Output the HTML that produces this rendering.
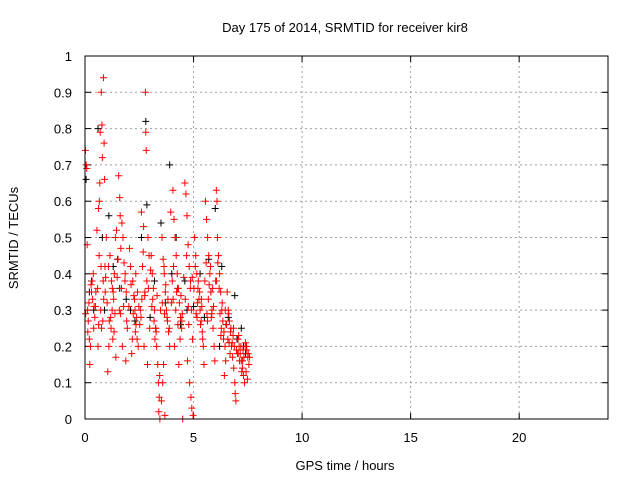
<!DOCTYPE html>
<html><head><meta charset="utf-8"><style>
body{margin:0;background:#fff}
svg text{font-family:"Liberation Sans",sans-serif;font-size:13px;fill:#000}
</style></head><body>
<svg id="chart" width="640" height="480" xmlns="http://www.w3.org/2000/svg">
<rect width="640" height="480" fill="#fff"/>
<text x="345" y="32" text-anchor="middle">Day 175 of 2014, SRMTID for receiver kir8</text>
<text x="345" y="470" text-anchor="middle">GPS time / hours</text>
<text transform="translate(18,238) rotate(-90)" text-anchor="middle">SRMTID / TECUs</text>
<g id="grid"></g><g id="ticks"></g><g id="black"></g><g id="red"></g>
<rect x="85" y="56" width="523" height="363" fill="none" stroke="#000" stroke-width="1"/>
</svg>
<script>
const xTicks=[0,5,10,15,20];
const yTicks=[0,0.1,0.2,0.3,0.4,0.5,0.6,0.7,0.8,0.9,1];
const yTickLabels=["0","0.1","0.2","0.3","0.4","0.5","0.6","0.7","0.8","0.9","1"];
const redX=[0.02,0.05,0.08,0.1,0.12,0.15,0.2,0.25,0.3,0.35,0.4,0.45,0.22,0.38,
0.55,0.85,0.75,0.78,0.7,0.88,0.8,0.9,0.62,0.65,0.95,0.58,0.72,0.82,0.6,0.68,0.98,0.92,0.86,0.76,
1.05,1.1,1.2,1.25,1.3,1.35,1.15,1.4,1.45,1.22,1.32,1.18,1.28,1.42,
1.55,1.6,1.62,1.7,1.75,1.65,1.8,1.85,1.9,1.58,1.95,1.72,1.88,
2.05,2.1,2.2,2.25,2.3,2.35,2.4,2.45,2.15,2.28,2.38,
2.78,2.8,2.82,2.6,2.7,2.9,2.95,2.65,2.85,2.75,2.55,2.98,2.72,2.88,
3.05,3.1,3.15,3.2,3.25,3.3,3.35,3.38,3.42,3.4,3.45,3.48,3.22,
3.55,3.6,3.65,3.7,3.75,3.8,3.85,3.9,3.62,3.58,3.52,3.68,3.95,
4.05,4.1,4.15,4.2,4.25,4.3,4.35,4.4,4.45,4.12,4.32,4.5,
4.6,4.65,4.7,4.75,4.8,4.85,4.9,4.95,4.72,4.82,4.88,4.92,4.98,
5.05,5.1,5.15,5.2,5.25,5.3,5.35,5.4,5.45,5.48,
5.55,5.6,5.65,5.7,5.75,5.8,5.85,5.9,5.95,5.98,
6.05,6.08,6.1,6.15,6.2,6.25,6.3,6.35,6.4,6.45,6.48,6.42,
6.55,6.6,6.65,6.7,6.75,6.8,6.85,6.9,6.92,6.95,
7.05,7.1,7.15,7.2,7.25,7.3,7.35,7.4,7.45,7.5,7.55,
0.03,0.18,0.28,0.42,0.5,0.66,0.74,0.84,1.02,1.12,1.26,1.38,1.48,1.52,1.68,1.78,1.92,2.02,2.12,2.22,2.32,2.42,2.48,2.52,2.62,2.68,2.92,3.02,3.12,3.18,3.28,3.32,3.44,3.56,3.66,3.72,3.82,3.88,3.98,4.02,4.08,4.18,4.22,4.28,4.38,4.42,4.48,4.55,4.62,4.68,4.78,4.86,5.02,5.08,5.12,5.18,5.22,5.28,5.32,5.38,5.42,5.52,5.58,5.62,5.68,5.72,5.78,5.82,5.88,5.92,6.02,6.12,6.18,6.22,6.28,6.32,6.38,6.52,6.58,6.62,6.68,6.72,6.78,6.82,6.88,6.98,7.02,7.08,7.12,7.18,7.22,7.28,7.32,7.38,7.42,7.48,7.52,
0.13,0.33,0.48,0.63,0.93,1.08,1.34,1.64,1.84,2.18,2.34,2.58,2.76,3.08,3.26,3.64,3.78,4.06,4.26,4.46,4.76,4.94,5.16,5.36,5.64,5.84,6.06,6.26,6.46,6.64,6.84,7.06,7.26,7.44,7.58];
const redY=[0.74,0.7,0.69,0.48,0.3,0.27,0.22,0.2,0.35,0.33,0.25,0.28,0.15,0.4,
0.52,0.94,0.9,0.81,0.79,0.76,0.72,0.66,0.58,0.45,0.39,0.36,0.3,0.27,0.2,0.65,0.5,0.42,0.33,0.25,
0.13,0.2,0.25,0.3,0.35,0.4,0.45,0.5,0.52,0.38,0.33,0.28,0.22,0.17,
0.67,0.61,0.56,0.54,0.5,0.47,0.43,0.4,0.35,0.3,0.25,0.2,0.16,
0.47,0.42,0.38,0.34,0.3,0.26,0.22,0.2,0.18,0.33,0.28,
0.9,0.79,0.74,0.57,0.53,0.5,0.45,0.42,0.38,0.34,0.3,0.25,0.2,0.15,
0.45,0.4,0.36,0.3,0.25,0.2,0.15,0.1,0.06,0.02,0,0.3,0.22,
0.5,0.44,0.4,0.35,0.3,0.27,0.24,0.2,0.15,0.1,0.05,0.01,0.57,
0.63,0.55,0.5,0.45,0.4,0.36,0.32,0.28,0.25,0.2,0.15,0.0,
0.65,0.62,0.56,0.48,0.42,0.36,0.3,0.22,0.16,0.1,0.06,0.03,0.01,
0.5,0.45,0.4,0.36,0.33,0.3,0.27,0.24,0.2,0.15,
0.6,0.55,0.5,0.45,0.4,0.35,0.3,0.25,0.2,0.16,
0.63,0.6,0.5,0.45,0.4,0.35,0.3,0.27,0.24,0.2,0.16,0.12,
0.35,0.3,0.27,0.24,0.2,0.17,0.14,0.1,0.07,0.05,
0.22,0.2,0.18,0.16,0.14,0.12,0.1,0.21,0.19,0.17,0.15,
0.29,0.32,0.37,0.31,0.35,0.6,0.42,0.38,0.32,0.27,0.36,0.29,0.39,0.44,0.36,0.31,0.27,0.31,0.37,0.29,0.24,0.35,0.31,0.26,0.33,0.46,0.36,0.41,0.33,0.27,0.24,0.34,0.12,0.32,0.29,0.37,0.33,0.25,0.32,0.38,0.42,0.3,0.35,0.26,0.22,0.34,0.29,0.39,0.33,0.45,0.26,0.38,0.36,0.42,0.29,0.32,0.38,0.35,0.26,0.31,0.22,0.38,0.43,0.29,0.33,0.37,0.42,0.28,0.36,0.31,0.38,0.43,0.36,0.29,0.25,0.32,0.22,0.26,0.22,0.29,0.18,0.25,0.21,0.23,0.2,0.19,0.18,0.23,0.16,0.2,0.13,0.19,0.17,0.2,0.13,0.11,0.18,
0.24,0.38,0.31,0.26,0.35,0.42,0.24,0.29,0.38,0.22,0.4,0.28,0.35,0.31,0.25,0.42,0.28,0.33,0.36,0.27,0.31,0.39,0.28,0.33,0.27,0.29,0.38,0.23,0.3,0.21,0.25,0.18,0.16,0.2,0.17];
const blackX=[0.05,0.3,0.6,0.8,1.1,1.5,1.9,2.3,2.8,2.85,3.2,3.5,3.9,4.0,4.2,4.6,5.0,5.3,5.7,6.0,6.3,6.6,6.9,7.2,7.4,0.4,1.3,2.6,4.4,5.8,6.2,7.0,0.2,0.9,1.6,2.1,3.0,3.7,4.7,5.5,6.5,7.3];
const blackY=[0.66,0.38,0.8,0.5,0.56,0.44,0.33,0.27,0.82,0.59,0.38,0.54,0.7,0.4,0.5,0.38,0.31,0.4,0.44,0.58,0.42,0.28,0.34,0.25,0.18,0.3,0.42,0.5,0.26,0.35,0.2,0.22,0.35,0.3,0.36,0.3,0.28,0.32,0.3,0.28,0.26,0.2];
const X0=85,X1=606,Y0=419,Y1=56;
const sx=v=>X0+v/24*(X1-X0);
const sy=v=>Y0-v*(Y0-Y1);
const NS="http://www.w3.org/2000/svg";
function mk(t,a,p){const e=document.createElementNS(NS,t);for(const k in a)e.setAttribute(k,a[k]);p.appendChild(e);return e;}
const grid=document.getElementById('grid'),ticks=document.getElementById('ticks');
yTicks.forEach((v,i)=>{
  const y=sy(v);
  if(i>0&&i<yTicks.length-1){const g=mk('line',{x1:X0,x2:608,y1:y,y2:y,stroke:'#a0a0a0','stroke-dasharray':'2,3'},grid);
  
  }
  const t=mk('text',{x:72,y:y+5,'text-anchor':'end'},ticks);t.textContent=yTickLabels[i];
  
  
  mk('line',{x1:X0,x2:X0+6,y1:y,y2:y,stroke:'#000'},ticks);
  mk('line',{x1:602,x2:608,y1:y,y2:y,stroke:'#000'},ticks);
});
xTicks.forEach(v=>{
  const x=sx(v);
  if(v>0){const g=mk('line',{x1:x,x2:x,y1:Y1,y2:Y0,stroke:'#a0a0a0','stroke-dasharray':'2,3'},grid);
  
  }
  const t=mk('text',{x:x,y:442,'text-anchor':'middle'},ticks);t.textContent=String(v);
  
  
  mk('line',{x1:x,x2:x,y1:Y0,y2:Y0-6,stroke:'#000'},ticks);
  mk('line',{x1:x,x2:x,y1:Y1,y2:Y1+6,stroke:'#000'},ticks);
});
function plus(x,y,c,g,name){
  const p=mk('path',{d:`M${x-3.5},${y}h7M${x},${y-3.5}v7`,stroke:c,'stroke-width':1,fill:'none'},g);
  
  
}
const bg=document.getElementById('black'),rg=document.getElementById('red');
blackX.forEach((v,i)=>plus(sx(v),sy(blackY[i]),'#000',bg,'black-point'));
redX.forEach((v,i)=>plus(sx(v),sy(redY[i]),'#ff0000',rg,'red-point'));
</script>
</body></html>
